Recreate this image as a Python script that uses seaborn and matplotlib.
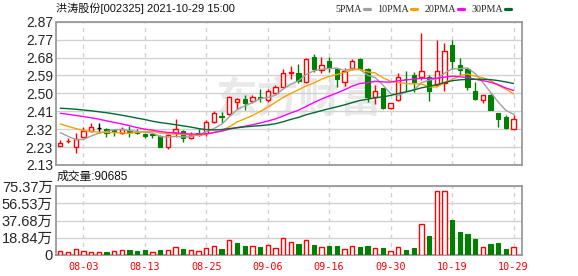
import numpy as np
import pandas as pd
import matplotlib
matplotlib.use("Agg")
import matplotlib.pyplot as plt
from matplotlib.lines import Line2D
import seaborn as sns

# ---------------- data ----------------
title_text = "洪涛股份[002325] 2021-10-29 15:00"
vol_title = "成交量:90685"

opens = [2.230, 2.252, 2.224, 2.276, 2.307, 2.320, 2.314, 2.311, 2.294, 2.304,
         2.299, 2.292, 2.292, 2.280, 2.224, 2.294, 2.307, 2.268, 2.297, 2.294,
         2.354, 2.382, 2.392, 2.455, 2.471, 2.462, 2.479, 2.464, 2.503, 2.534,
         2.606, 2.605, 2.557, 2.686, 2.620, 2.667, 2.628, 2.558, 2.629, 2.677,
         2.626, 2.483, 2.526, 2.423, 2.464, 2.575, 2.595, 2.586, 2.583, 2.543,
         2.556, 2.750, 2.646, 2.624, 2.513, 2.466, 2.493, 2.397, 2.380, 2.318]
highs = [2.260, 2.268, 2.294, 2.328, 2.345, 2.345, 2.320, 2.313, 2.325, 2.331,
         2.314, 2.297, 2.297, 2.285, 2.290, 2.366, 2.310, 2.300, 2.314, 2.362,
         2.410, 2.405, 2.488, 2.475, 2.490, 2.490, 2.520, 2.525, 2.543, 2.626,
         2.640, 2.650, 2.680, 2.702, 2.690, 2.690, 2.630, 2.632, 2.675, 2.680,
         2.630, 2.543, 2.530, 2.450, 2.607, 2.616, 2.610, 2.812, 2.595, 2.778,
         2.760, 2.774, 2.680, 2.630, 2.560, 2.491, 2.500, 2.397, 2.388, 2.388]
lows = [2.228, 2.245, 2.194, 2.276, 2.302, 2.294, 2.276, 2.280, 2.290, 2.276,
        2.289, 2.271, 2.271, 2.224, 2.212, 2.276, 2.247, 2.265, 2.282, 2.280,
        2.348, 2.348, 2.390, 2.418, 2.414, 2.448, 2.457, 2.457, 2.497, 2.531,
        2.575, 2.555, 2.555, 2.612, 2.607, 2.612, 2.534, 2.539, 2.620, 2.620,
        2.457, 2.443, 2.420, 2.420, 2.462, 2.510, 2.507, 2.569, 2.462, 2.536,
        2.513, 2.627, 2.597, 2.515, 2.464, 2.451, 2.412, 2.328, 2.316, 2.316]
closes = [2.245, 2.254, 2.262, 2.307, 2.328, 2.320, 2.297, 2.308, 2.314, 2.300,
          2.296, 2.281, 2.283, 2.224, 2.285, 2.314, 2.268, 2.287, 2.285, 2.354,
          2.397, 2.378, 2.480, 2.470, 2.452, 2.482, 2.476, 2.513, 2.531, 2.605,
          2.610, 2.565, 2.676, 2.624, 2.646, 2.629, 2.576, 2.616, 2.667, 2.627,
          2.483, 2.512, 2.423, 2.448, 2.583, 2.572, 2.557, 2.615, 2.514, 2.617,
          2.717, 2.669, 2.620, 2.534, 2.471, 2.491, 2.412, 2.368, 2.320, 2.368]

# volume in 万 (10k)
vol_wan = [4.4, 3.3, 6.2, 4.4, 3.3, 3.3, 3.6, 4.4, 5.5, 5.5,
           4.7, 5.5, 3.3, 5.5, 5.5, 8.4, 6.6, 5.5, 4.4, 7.6,
           9.8, 6.6, 16.4, 13.5, 9.8, 9.8, 8.7, 10.9, 7.6, 18.2,
           14.0, 12.0, 16.0, 10.9, 8.4, 9.8, 9.8, 6.2, 9.5, 8.7,
           9.8, 7.3, 7.6, 4.0, 8.4, 5.5, 7.6, 33.5, 20.8, 69.5,
           69.5, 38.2, 25.1, 22.9, 17.5, 8.4, 12.0, 13.1, 6.6, 9.07]
vol_up = [1, 1, 1, 1, 1, 1, 0, 1, 1, 0,
          0, 0, 1, 0, 1, 1, 0, 1, 1, 1,
          1, 0, 1, 0, 0, 1, 0, 1, 1, 1,
          1, 0, 1, 0, 1, 0, 0, 1, 1, 0,
          0, 1, 0, 1, 1, 0, 0, 1, 0, 1,
          1, 0, 0, 0, 0, 1, 0, 0, 0, 1]

ma5_head = [2.297, 2.278, 2.262, 2.262]
ma10_head = [2.342, 2.330, 2.318, 2.308, 2.303, 2.300, 2.298, 2.297, 2.296]
ma20_head = [2.397, 2.392, 2.386, 2.380, 2.374, 2.367, 2.358, 2.350, 2.342, 2.333,
             2.323, 2.315, 2.310, 2.303, 2.298, 2.296, 2.292, 2.290, 2.289]
ma30_head = [2.423, 2.421, 2.418, 2.414, 2.410, 2.405, 2.400, 2.394, 2.387, 2.380,
             2.372, 2.365, 2.356, 2.349, 2.344, 2.338, 2.332, 2.326, 2.318, 2.313,
             2.311, 2.313, 2.318, 2.322, 2.327, 2.330, 2.333, 2.337, 2.343]

price_labels = ['2.13', '2.23', '2.32', '2.41', '2.50', '2.59', '2.68', '2.77', '2.87']
vol_labels = ['0', '18.84万', '37.68万', '56.53万', '75.37万']
date_pos = [3, 11, 19, 27, 35, 43, 51, 59]
date_labels = ['08-03', '08-13', '08-25', '09-06', '09-16', '09-30', '10-19', '10-29']
ma_names = ['5PMA', '10PMA', '20PMA', '30PMA']

# ---------------- style ----------------
sns.set_theme(style="white")
plt.rcParams['font.family'] = ['Liberation Sans', 'Noto Sans CJK SC', 'DejaVu Sans']

RED = '#ff0000'
GREEN = '#008000'
MA_COLORS = ['#a0a0a0', '#f5a300', '#ff00ff', '#006a32']
GRID = '#d2d2d2'
SPINE = '#9a9a9a'

W, H = 578, 276
fig = plt.figure(figsize=(W / 100, H / 100), dpi=100)
fig.patch.set_facecolor('white')

def fx(px):
    return px / W

def fy(py):
    return 1 - py / H

axp = fig.add_axes([fx(55.7), fy(165), fx(522 - 55.7), (165 - 21.7) / H])
axv = fig.add_axes([fx(55.7), fy(255), fx(522 - 55.7), (255 - 186) / H])

o = np.array(opens); h = np.array(highs); l = np.array(lows); c = np.array(closes)
n = len(c)
idx = np.arange(n)

# moving averages
cs = pd.Series(closes)
def moving(head, k):
    r = cs.rolling(k).mean()
    r.iloc[:len(head)] = head
    return r.values

mas = [moving(ma5_head, 5), moving(ma10_head, 10), moving(ma20_head, 20), moving(ma30_head, 30)]

# watermark
axp.text(31, 2.47, '东方财富', fontsize=30, color='#e9e9e9', ha='center', va='center',
         fontweight='bold', family=['Noto Sans CJK SC'], zorder=0)

# candles
up = c > o
dn = c < o
flat = c == o
wick_col = np.where(up, RED, np.where(dn, GREEN, '#000000'))
axp.vlines(idx, l, h, colors=list(wick_col), linewidth=1.0, zorder=3)
bottom = np.minimum(o, c)
height = np.abs(c - o)
bw = 0.56
axp.bar(idx[up], height[up], bottom=bottom[up], width=bw, facecolor='white',
        edgecolor=RED, linewidth=1.0, zorder=4)
axp.bar(idx[dn], height[dn], bottom=bottom[dn], width=bw, facecolor=GREEN,
        edgecolor=GREEN, linewidth=0.8, zorder=4)
axp.hlines(c[flat], idx[flat] - bw / 2, idx[flat] + bw / 2, colors='#000000',
           linewidth=1.0, zorder=4)

# MA lines
for m, col in zip(mas, MA_COLORS):
    sns.lineplot(x=idx, y=m, ax=axp, color=col, linewidth=1.0, zorder=5)

# volume bars
vu = np.array(vol_up).astype(bool)
vv = np.array(vol_wan)
axv.bar(idx[vu], vv[vu], width=bw, facecolor='white', edgecolor=RED, linewidth=1.0, zorder=3)
axv.bar(idx[~vu], vv[~vu], width=bw, facecolor=GREEN, edgecolor=GREEN, linewidth=0.8, zorder=3)

# axes styling
for ax in (axp, axv):
    ax.set_xlim(-0.6, 60.1)
    ax.set_xticks(date_pos)
    ax.xaxis.grid(True, color=GRID, linestyle=(0, (3, 3)), linewidth=1.0)
    ax.yaxis.grid(True, color=GRID, linestyle='-', linewidth=1.0)
    ax.set_axisbelow(True)
    ax.tick_params(length=0)
    for s in ax.spines.values():
        s.set_color(SPINE)
        s.set_linewidth(1.3)
    ax.set_xlabel('')
    ax.set_ylabel('')
    ax.set_facecolor('white')

axp.set_ylim(2.13, 2.87)
axp.set_yticks(np.linspace(2.13, 2.87, len(price_labels)))
axp.set_yticklabels(price_labels, fontsize=10,
                    family=['Liberation Sans Narrow', 'Liberation Sans'])
axp.tick_params(axis='y', pad=2)
axp.set_xticklabels([])

axv.set_ylim(0, 75.37)
axv.set_yticks(np.linspace(0, 75.37, len(vol_labels)))
axv.set_yticklabels(vol_labels, fontsize=10.5, family=['Liberation Sans', 'Noto Sans CJK SC'])
axv.tick_params(axis='y', pad=2)
axv.set_xticklabels(date_labels, fontsize=7.3, color=RED, family=['DejaVu Sans Mono'])
axv.tick_params(axis='x', pad=5)

# titles
fig.text(fx(56.5), fy(8.5), title_text, fontsize=8, va='center', ha='left', color='#111111',
         family=['Liberation Sans', 'Noto Sans CJK SC'])
fig.text(fx(56.5), fy(176.5), vol_title, fontsize=8.5, va='center', ha='left', color='#111111',
         family=['Liberation Sans', 'Noto Sans CJK SC'])

# legend (label then swatch)
handles = [Line2D([], [], color=col, linewidth=2.3) for col in MA_COLORS]
fig.legend(handles, ma_names, loc='center right', bbox_to_anchor=(fx(511), fy(9.5)),
           ncol=4, frameon=False, markerfirst=False,
           handlelength=0.6, handletextpad=0.2, columnspacing=0.75,
           borderpad=0, borderaxespad=0, prop={'family': ['Liberation Serif'], 'size': 7.2})

fig.savefig('out.png', dpi=100, facecolor='white')
